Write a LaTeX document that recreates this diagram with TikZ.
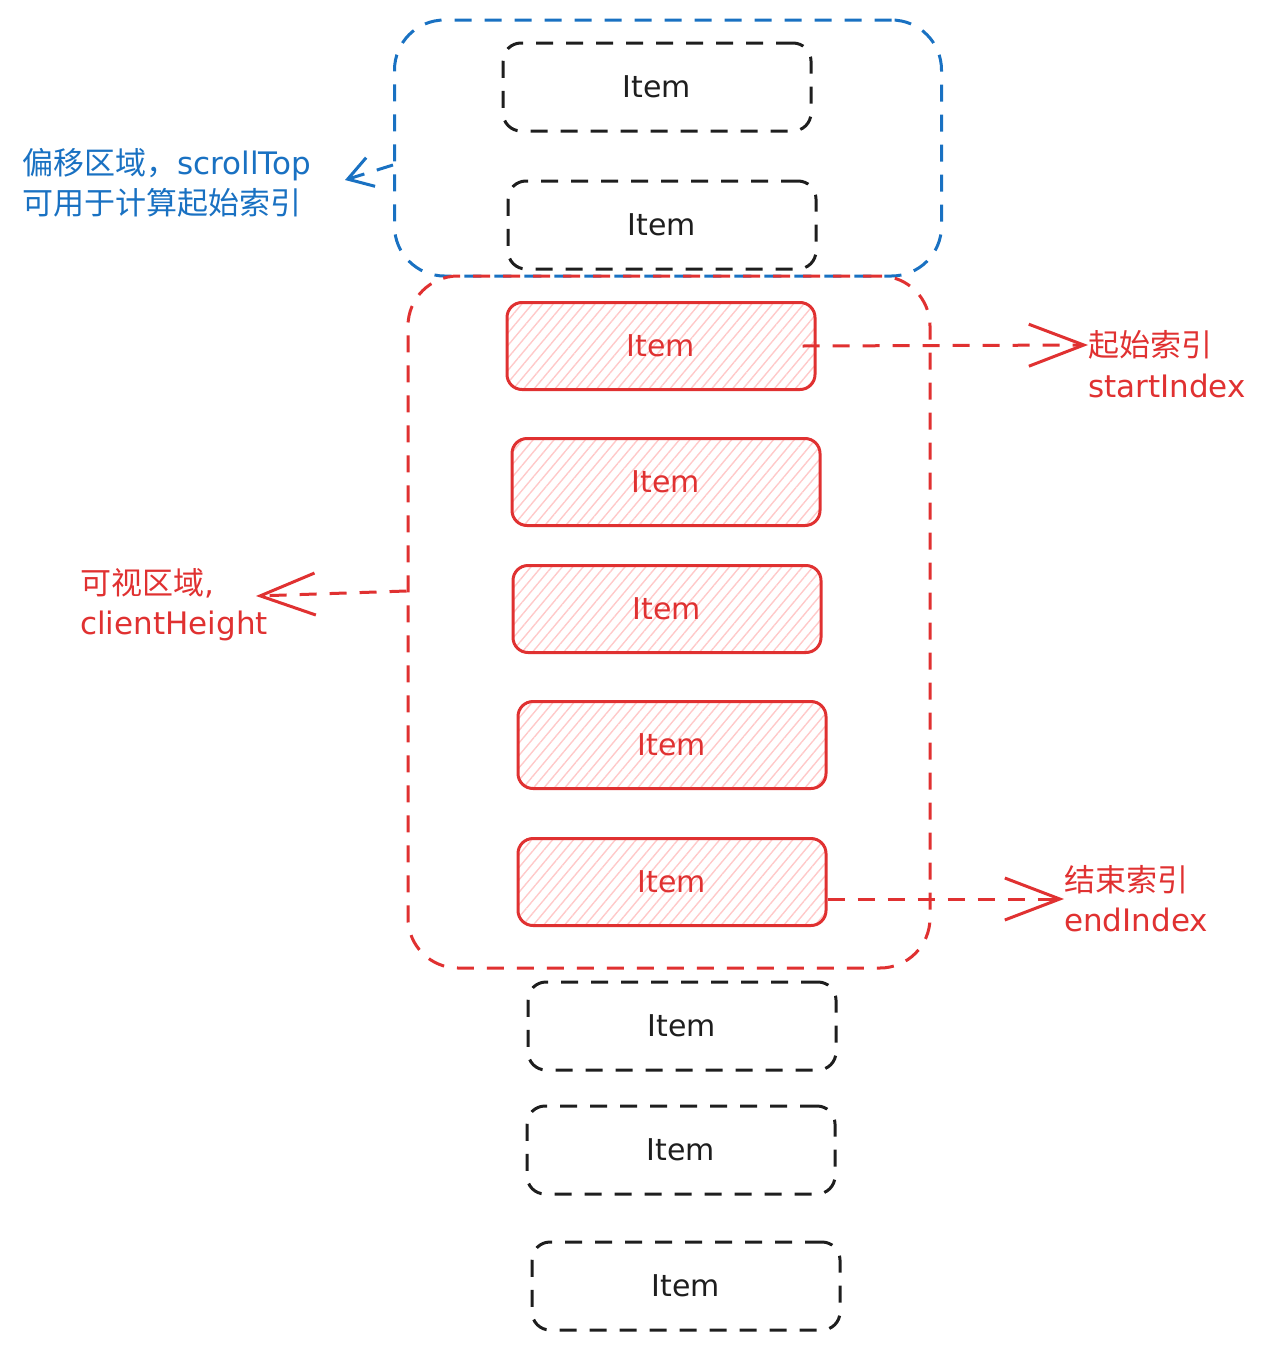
\documentclass[tikz,border=0pt]{standalone}
\usepackage{fontspec}
\setmainfont{DejaVu Sans}
\newfontfamily\cjk{Noto Sans CJK SC}
\usetikzlibrary{arrows.meta,patterns.meta}
\definecolor{xblue}{HTML}{1971C2}
\definecolor{xred}{HTML}{E03131}
\definecolor{xblack}{HTML}{1E1E1E}
\definecolor{xhatch}{HTML}{FFC9C9}
\tikzset{
  sketch/.style={line width=3pt,dash pattern=on 17pt off 13pt},
  region/.style={sketch,rounded corners=50pt,inner sep=0pt},
  olditem/.style={sketch,draw=xblack,text=xblack,rounded corners=18pt,
    minimum width=308pt,minimum height=88pt,font=\fontsize{30}{32}\selectfont},
  newitem/.style={draw=xred,text=xred,line width=3pt,rounded corners=15pt,
    minimum width=308pt,minimum height=87pt,font=\fontsize{30}{32}\selectfont,
    pattern={Lines[angle=50,distance=8pt,line width=1.4pt]},pattern color=xhatch},
  note/.style={font=\fontsize{31}{40}\selectfont,align=left,inner sep=0pt},
  pointer/.style={sketch,-{Straight Barb[length=55pt,width=42pt,line width=3pt]}}
}
\begin{document}
\begin{tikzpicture}[x=1pt,y=-1pt]
				\useasboundingbox (0,0) rectangle (1283,1349);
				% offset area and visible area
				\node[region,draw=xblue,minimum width=547pt,minimum height=256pt] (offset) at (668,148) {};
				\node[region,draw=xred,minimum width=522pt,minimum height=692pt] (viewport) at (669,622) {};
				% items
				\node[olditem] (item1) at (657,87) {Item};
				\node[olditem] (item2) at (662,225) {Item};
				\node[newitem] (item3) at (661,346) {Item};
				\node[newitem] (item4) at (666,482) {Item};
				\node[newitem] (item5) at (667,609) {Item};
				\node[newitem] (item6) at (672,745) {Item};
				\node[newitem] (item7) at (672,882) {Item};
				\node[olditem] (item8) at (682,1026) {Item};
				\node[olditem] (item9) at (681,1150) {Item};
				\node[olditem] (item10) at (686,1286) {Item};
				% labels
				\node[note,text=xblue,anchor=west] (offsetlbl) at (22,183) {{\cjk 偏移区域，}scrollTop\\{\cjk 可用于计算起始索引}};
				\node[note,text=xred,anchor=west] (viewlbl) at (80,605) {{\cjk 可视区域},\\clientHeight};
				\node[note,text=xred,anchor=west] (startcn) at (1088,345) {{\cjk 起始索引}};
				\node[note,text=xred,anchor=west] (starten) at (1088,386) {startIndex};
				\node[note,text=xred,anchor=west] (endlbl) at (1064,899) {{\cjk 结束索引}\\endIndex};
				\coordinate (offtip) at (345,180);
				\coordinate (viewtip) at (256,596);
				% pointers
				\draw[pointer,draw=xblue,-{Straight Barb[length=24pt,width=30pt,line width=3pt]}] ([yshift=-17pt]offset.west) -- (offtip);
				\draw[pointer,draw=xred] ([yshift=31pt]viewport.west) -- (viewtip);
				\draw[pointer,draw=xred] ([xshift=-13pt]item3.east) -- (startcn.west);
				\draw[pointer,draw=xred] ([yshift=-17pt]item7.east) -- (endlbl.west);
			\end{tikzpicture}
\end{document}
